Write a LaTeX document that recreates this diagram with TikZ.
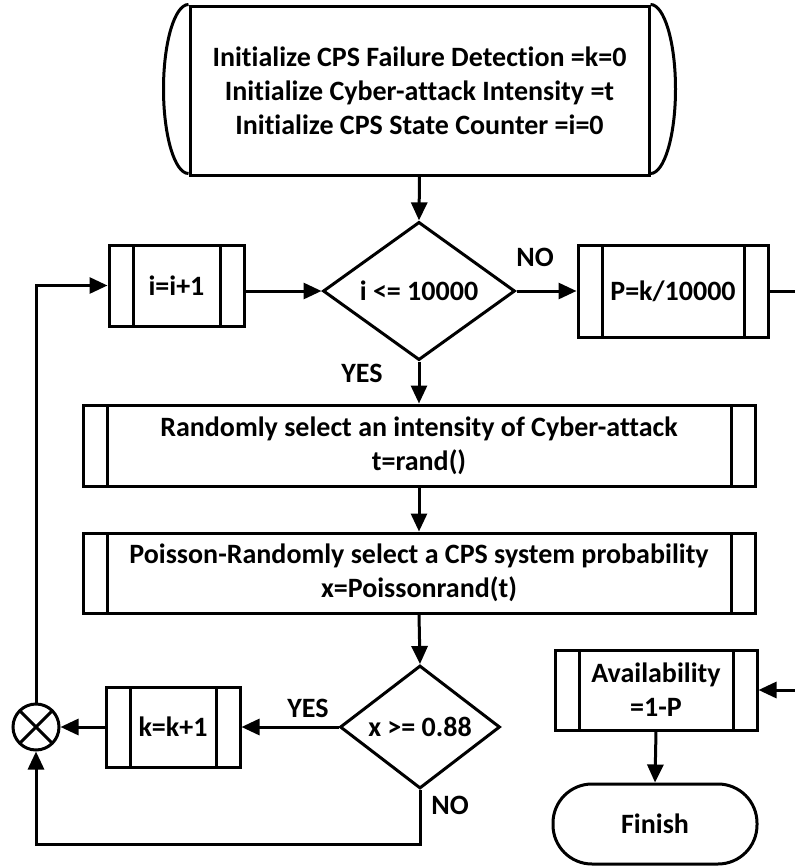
\documentclass[tikz,border=0pt]{standalone}
\usepackage{fontspec}
\setmainfont{Carlito}[Ligatures=NoCommon]
\usetikzlibrary{arrows.meta,shapes.geometric}

\tikzset{
    every node/.style={font=\bfseries\fontsize{14}{17}\selectfont, align=center, inner sep=0pt},
    proc/.style={draw, rectangle, path picture={
        \draw ([xshift=12pt]path picture bounding box.north west) -- ([xshift=12pt]path picture bounding box.south west);
        \draw ([xshift=-12pt]path picture bounding box.north east) -- ([xshift=-12pt]path picture bounding box.south east);}},
    cond/.style={draw, diamond},
    arr/.style={-{Triangle[length=9pt,width=8pt]}},
}

\begin{document}
\begin{tikzpicture}[x=0.5pt, y=-0.5pt, line width=1.5pt]
                \useasboundingbox (0,0) rectangle (795,868);

                \node[draw, rectangle, minimum width=229.5pt, minimum height=84.5pt] (init) at (419.5,90.5)
                    {Initialize CPS Failure Detection =k=0\\Initialize Cyber-attack Intensity =t\\Initialize CPS State Counter =i=0};
                \draw (init.north west) arc[start angle=90, end angle=270, x radius=12.5pt, y radius=42.25pt];
                \draw (init.north east) arc[start angle=90, end angle=-90, x radius=12.5pt, y radius=42.25pt];

                \node[cond, minimum width=96pt, minimum height=67pt] (test) at (419,291) {i <= 10000};
                \node[proc, minimum width=67.5pt, minimum height=40.5pt] (inc) at (176.5,285.5) {i=i+1};
                \node[proc, minimum width=95pt, minimum height=46pt] (prob) at (673,291) {P=k/10000};

                \node[proc, minimum width=336pt, minimum height=40.5pt] (rand) at (419,445.5)
                    {Randomly select an intensity of Cyber-attack\\t=rand()};
                \node[proc, minimum width=336pt, minimum height=40pt] (pois) at (419,573)
                    {Poisson-Randomly select a CPS system probability\\x=Poissonrand(t)};

                \node[cond, minimum width=80pt, minimum height=56pt] (check) at (420,727) {x >= 0.88};
                \node[proc, minimum width=67pt, minimum height=40pt] (count) at (173,727) {k=k+1};
                \node[draw, circle, minimum size=23pt, path picture={
                    \draw (sum.45) -- (sum.225);
                    \draw (sum.135) -- (sum.-45);}] (sum) at (36,727) {};

                \node[proc, minimum width=101pt, minimum height=40pt] (avail) at (656,690) {Availability\\=1-P};
                \node[draw, rectangle, rounded corners=19.5pt, minimum width=102pt, minimum height=40pt] (finish) at (655,824) {Finish};

                \node (no1) at (535,257) {NO};
                \node (yes1) at (362,373) {YES};
                \node (yes2) at (308,708) {YES};
                \node (no2) at (450,805) {NO};

                \coordinate (loopb) at (420,844);
                \coordinate (right) at (815,291);

                \draw[arr] (init.south) -- (test.north);
                \draw[arr] (inc.east |- test.west) -- (test.west);
                \draw[arr] (test.east) -- (prob.west);
                \draw[arr] (test.south) -- (rand.north);
                \draw[arr] (rand.south) -- (pois.north);
                \draw[arr] (pois.south) -- (check.north);
                \draw[arr] (check.west) -- (count.east);
                \draw[arr] (count.west) -- (sum.east);
                \draw[arr] (sum.north) |- (inc.west);
                \draw[arr] (check.south) -- (loopb) -| (sum.south);
                \draw[arr] (prob.east) -- (right) |- (avail.east);
                \draw[arr] (avail.south) -- (finish.north);
\end{tikzpicture}
\end{document}
